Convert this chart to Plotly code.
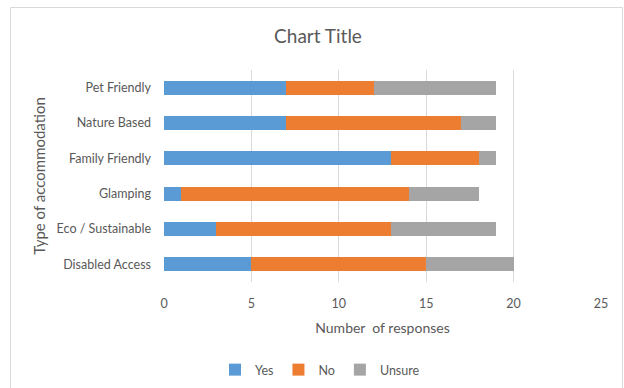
import plotly.graph_objects as go

# Survey responses per accommodation type (bottom to top on the chart)
categories = ["Disabled Access", "Eco / Sustainable", "Glamping",
              "Family Friendly", "Nature Based", "Pet Friendly"]
yes_counts = [5, 3, 1, 13, 7, 7]
no_counts = [10, 10, 13, 5, 10, 5]
unsure_counts = [5, 6, 4, 1, 2, 7]

x_ticks = [0, 5, 10, 15, 20, 25]

W, H = 624, 388
L, R, T, B = 164, 23, 70, 106

FONT = "Lato, 'Open Sans', sans-serif"
TXT = "#595959"

fig = go.Figure()
for name, vals, col in [("Yes", yes_counts, "#5B9BD5"),
                        ("No", no_counts, "#ED7D31"),
                        ("Unsure", unsure_counts, "#A5A5A5")]:
    fig.add_trace(go.Bar(y=categories, x=vals, name=name, orientation="h",
                         marker=dict(color=col, line=dict(width=0))))

pw = W - L - R
ph = H - T - B

def px_x(p):
    return (p - L) / pw

def px_y(p):
    return (H - B - p) / ph

# Outer chart frame (left, top, right edges)
fig.add_shape(type="path", xref="paper", yref="paper",
              path=f"M {px_x(10.5)} {px_y(392)} L {px_x(10.5)} {px_y(7.5)} "
                   f"L {px_x(622.5)} {px_y(7.5)} L {px_x(622.5)} {px_y(392)}",
              line=dict(color="#D9D9D9", width=1))

fig.update_layout(
    width=W, height=H,
    margin=dict(l=L, r=R, t=T, b=B, autoexpand=False),
    paper_bgcolor="white", plot_bgcolor="white",
    barmode="stack", bargap=0.6,
    font=dict(family=FONT, color=TXT, size=12),
    title=dict(text="Chart Title", x=318 / W, xref="container",
               xanchor="center", y=1 - 36 / H, yref="container",
               yanchor="middle",
               font=dict(size=19, color=TXT, family=FONT)),
    xaxis=dict(range=[0, 25], tickvals=x_ticks, showgrid=True,
               gridcolor="#D9D9D9", gridwidth=1, zeroline=False,
               showline=False, ticks="", ticklabelstandoff=12,
               tickfont=dict(size=12.5, color=TXT), automargin=False,
               title=dict(text="Number  of responses", standoff=13,
                          font=dict(size=14, color=TXT))),
    yaxis=dict(showgrid=False, zeroline=False, showline=False, ticks="",
               ticklabelstandoff=12, tickfont=dict(size=12.5, color=TXT),
               automargin=False,
               title=dict(text="Type of accommodation", standoff=7,
                          font=dict(size=15, color=TXT))),
    legend=dict(orientation="h", x=320 / W, xref="container",
                xanchor="center",
                y=1 - 370 / H, yref="container", yanchor="middle",
                font=dict(size=12.5, color=TXT), itemwidth=30,
                traceorder="normal"),
)

fig.write_html("out.html")
